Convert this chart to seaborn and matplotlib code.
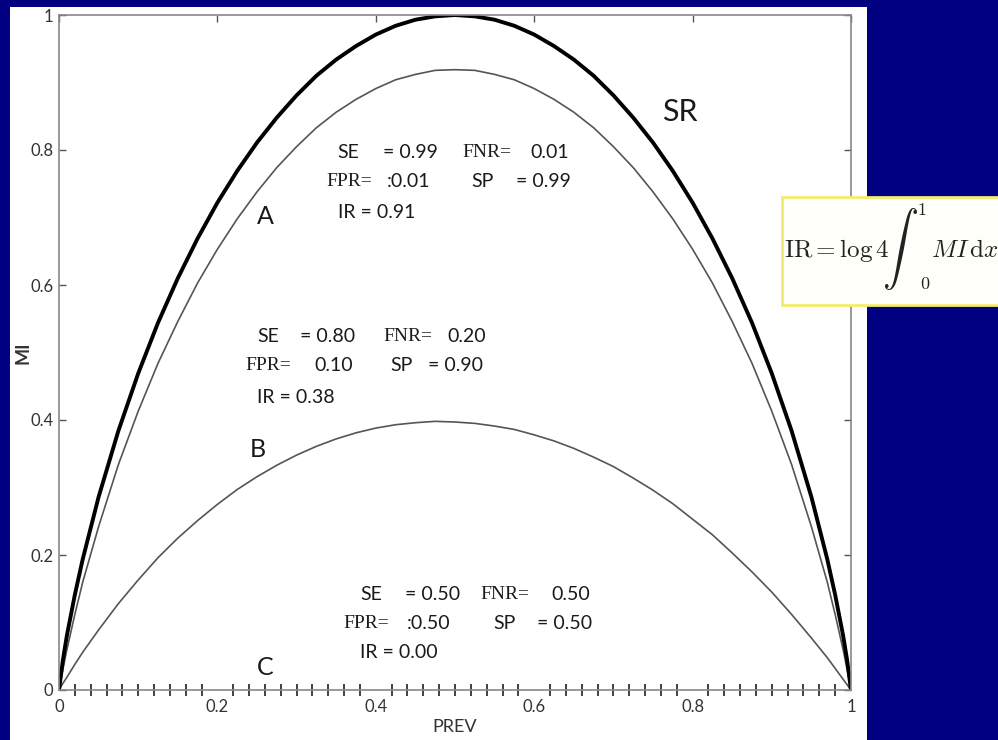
import numpy as np
import pandas as pd
import matplotlib
matplotlib.use("Agg")
import matplotlib.pyplot as plt
from matplotlib.patches import Rectangle
from matplotlib.ticker import MultipleLocator
import seaborn as sns

# ---------------- data ----------------
prev = [0, 0.005, 0.01, 0.02, 0.03,
        0.05, 0.075, 0.1, 0.125, 0.15, 0.175, 0.2, 0.225, 0.25, 0.275, 0.3, 0.325,
        0.35, 0.375, 0.4, 0.425, 0.45, 0.475, 0.5, 0.525, 0.55, 0.575, 0.6, 0.625,
        0.65, 0.675, 0.7, 0.725, 0.75, 0.775, 0.8, 0.825, 0.85, 0.875, 0.9, 0.925,
        0.95, 0.97, 0.98, 0.99, 0.995, 1.0]
mi_sr = [0, 0.045, 0.081, 0.141, 0.194,
         0.286, 0.384, 0.469, 0.544, 0.610, 0.669, 0.722, 0.769, 0.811, 0.848, 0.881,
         0.910, 0.934, 0.954, 0.971, 0.984, 0.993, 0.998, 1.000, 0.998, 0.993, 0.984,
         0.971, 0.954, 0.934, 0.910, 0.881, 0.848, 0.811, 0.769, 0.722, 0.669, 0.610,
         0.544, 0.469, 0.384, 0.286,
         0.194, 0.141, 0.081, 0.045, 0]
mi_a = [0, 0.031, 0.060, 0.112, 0.160,
        0.242, 0.334, 0.413, 0.484, 0.546, 0.603, 0.653, 0.698, 0.738, 0.774, 0.805,
        0.833, 0.856, 0.875, 0.891, 0.904, 0.912, 0.918, 0.919, 0.918, 0.912, 0.904,
        0.891, 0.875, 0.856, 0.833, 0.805, 0.774, 0.738, 0.698, 0.653, 0.603, 0.546,
        0.484, 0.413, 0.334, 0.242,
        0.160, 0.112, 0.060, 0.031, 0]
mi_b = [0, 0.010, 0.019, 0.038, 0.056,
        0.089, 0.128, 0.163, 0.196, 0.225, 0.251, 0.275, 0.297, 0.316, 0.333, 0.348,
        0.361, 0.372, 0.381, 0.388, 0.393, 0.396, 0.398, 0.397, 0.395, 0.391, 0.386,
        0.378, 0.369, 0.358, 0.345, 0.331, 0.314, 0.296, 0.276, 0.253, 0.230, 0.203,
        0.175, 0.145, 0.112, 0.077,
        0.048, 0.032, 0.016, 0.008, 0]

major_ticks = [0, 0.2, 0.4, 0.6, 0.8, 1.0]
tick_labels = ["0", "0.2", "0.4", "0.6", "0.8", "1"]

curve_labels = ["SR", "A", "B", "C"]
# parameter blocks: (SE, FNR, FPR, SP, IR)
block_a = ["0.99", "0.01", "0.01", "0.99", "0.91"]
block_b = ["0.80", "0.20", "0.10", "0.90", "0.38"]
block_c = ["0.50", "0.50", "0.50", "0.50", "0.00"]

# ---------------- style ----------------
sns.set_style("white")
plt.rcParams["font.family"] = ["Lato", "DejaVu Sans"]
plt.rcParams["mathtext.fontset"] = "cm"

W, H = 998, 740
fig = plt.figure(figsize=(W / 100, H / 100), dpi=100)
fig.patch.set_facecolor("#000080")
fig.patches.append(Rectangle((10 / W, 0), 857 / W, 733 / H, transform=fig.transFigure,
                             facecolor="white", edgecolor="none", zorder=-10))

ax = fig.add_axes([59 / W, 1 - 690 / H, 792 / W, 675 / H])
ax.set_facecolor("white")
ax.set_zorder(1)

df = pd.DataFrame({"PREV": prev, "SR": mi_sr, "A": mi_a, "B": mi_b})
line_kw = dict(sort=False, solid_joinstyle="round", solid_capstyle="round")
sns.lineplot(data=df, x="PREV", y="B", ax=ax, color="#555555", lw=1.2, **line_kw)
sns.lineplot(data=df, x="PREV", y="A", ax=ax, color="#555555", lw=1.2, **line_kw)
sns.lineplot(data=df, x="PREV", y="SR", ax=ax, color="black", lw=2.8, **line_kw)

ax.set_xlim(0, 1)
ax.set_ylim(0, 1)
ax.set_xticks(major_ticks)
ax.set_xticklabels(tick_labels)
ax.set_yticks(major_ticks)
ax.set_yticklabels(tick_labels)
ax.xaxis.set_minor_locator(MultipleLocator(0.02))
ax.tick_params(axis="x", which="major", direction="inout", length=11, width=1.3,
               color="#333333", labelsize=12, pad=1, labelcolor="#333333")
ax.tick_params(axis="x", which="minor", direction="inout", length=9, width=1.3,
               color="#333333", bottom=True)
ax.tick_params(axis="y", which="major", direction="in", length=5, width=1,
               color="#555555", labelsize=12, pad=4, labelcolor="#333333",
               left=True, right=True)
secax = ax.secondary_xaxis("top")
secax.set_xticks(major_ticks)
secax.tick_params(direction="in", length=5, width=1, color="#555555", labeltop=False)
for s in secax.spines.values():
    s.set_visible(False)
for s in ax.spines.values():
    s.set_color("#888888")
    s.set_linewidth(1.2)

ax.set_xlabel("PREV", fontsize=13, color="#333333", va="center")
ax.set_ylabel("MI", fontsize=13, color="#333333", fontweight="bold", va="center")
ax.xaxis.set_label_coords(0.5, -0.055)
ax.yaxis.set_label_coords(-0.046, 0.5)

# curve labels
ax.text(0.784, 0.856, curve_labels[0], fontsize=22, ha="center", va="center", color="#1a1a1a")
ax.text(0.260, 0.701, curve_labels[1], fontsize=18, ha="center", va="center", color="#1a1a1a")
ax.text(0.251, 0.356, curve_labels[2], fontsize=18, ha="center", va="center", color="#1a1a1a")
ax.text(0.260, 0.034, curve_labels[3], fontsize=18, ha="center", va="center", color="#1a1a1a")

sans = dict(fontsize=14, ha="left", va="center", color="#1a1a1a")
serif = dict(fontsize=14, ha="left", va="center", color="#1a1a1a",
             family=["Liberation Serif", "DejaVu Serif"])


def block(vals, rows, cols, colon):
    se, fnr, fpr, sp, ir = vals
    y1, y2, y3 = rows
    c = cols
    ax.text(c[0], y1, "SE", **sans)
    ax.text(c[1], y1, "= " + se, **sans)
    ax.text(c[2], y1, "FNR=", **serif)
    ax.text(c[3], y1, fnr, **sans)
    ax.text(c[4], y2, "FPR=", **serif)
    ax.text(c[5], y2, (":" if colon else "") + fpr, **sans)
    ax.text(c[6], y2, "SP", **sans)
    ax.text(c[7], y2, "= " + sp, **sans)
    ax.text(c[0], y3, "IR = " + ir, **sans)


block(block_a, (0.797, 0.753, 0.708),
      (0.352, 0.409, 0.509, 0.595, 0.337, 0.414, 0.521, 0.577), True)
block(block_b, (0.523, 0.481, 0.434),
      (0.250, 0.304, 0.409, 0.491, 0.235, 0.323, 0.418, 0.466), False)
block(block_c, (0.141, 0.099, 0.055),
      (0.380, 0.437, 0.532, 0.622, 0.359, 0.439, 0.548, 0.604), True)

# formula box
fig.patches.append(Rectangle((782 / W, 1 - 305 / H), 230 / W, 108 / H,
                             transform=fig.transFigure, facecolor="#fffffa",
                             edgecolor="#f2ec6e", lw=2, zorder=5))
fk = dict(color="#222222", zorder=6)
fig.text(784 / W, 1 - 257 / H, r"$\mathrm{IR} = \log 4$", fontsize=18,
         ha="left", va="baseline", **fk)
fig.text(900 / W, 1 - 249 / H, r"$\int$", fontsize=26, ha="center", va="center", **fk)
fig.text(922 / W, 1 - 210 / H, r"$1$", fontsize=13, ha="center", va="center", **fk)
fig.text(925 / W, 1 - 284 / H, r"$0$", fontsize=13, ha="center", va="center", **fk)
fig.text(931 / W, 1 - 257 / H, r"$MI\,\mathrm{d}x$", fontsize=18,
         ha="left", va="baseline", **fk)

fig.savefig("out.png", dpi=100, facecolor=fig.get_facecolor())
